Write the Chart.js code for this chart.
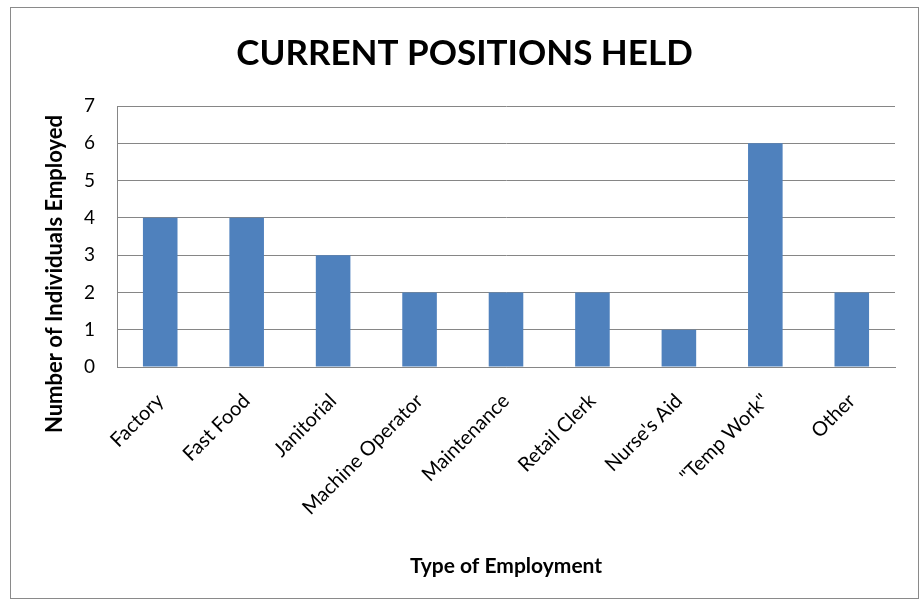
<!DOCTYPE html>
<html>
<head>
<meta charset="utf-8">
<script src="https://cdn.jsdelivr.net/npm/chart.js@4.4.1/dist/chart.umd.min.js"></script>
<style>
    body { margin: 0; background: #fff; }
    #frame {
        position: absolute;
        left: 10px; top: 7px;
        width: 907px; height: 590px;
        border: 1px solid #8a8a8a;
        background: #fff;
    }
</style>
</head>
<body>
<div id="frame"><canvas id="chart" width="907" height="590"></canvas></div>
<script>
// Values
const categories = ['Factory', 'Fast Food', 'Janitorial', 'Machine Operator', 'Maintenance',
    'Retail Clerk', "Nurse's Aid", '"Temp Work"', 'Other'];
const employed = [4, 4, 3, 2, 2, 2, 1, 6, 2];

const chartTitle = 'CURRENT POSITIONS HELD';
const xTitle = 'Type of Employment';
const yTitle = 'Number of Individuals Employed';
const yMax = 7;

const fontFam = 'Lato, "Liberation Sans", sans-serif';

// y title sits lower than the axis middle in the original, so draw it ourselves
const yTitlePlugin = {
    id: 'yTitlePlugin',
    afterDraw(chart) {
        const c = chart.ctx;
        c.save();
        c.translate(44, chart.chartArea.bottom - 93);
        c.rotate(-Math.PI / 2);
        c.font = 'bold 22px ' + fontFam;
        c.fillStyle = '#000';
        c.textAlign = 'center';
        c.textBaseline = 'middle';
        c.fillText(yTitle, 0, 0);
        c.restore();
    }
};

const ctx = document.getElementById('chart').getContext('2d');
const chart = new Chart(ctx, {
    type: 'bar',
    data: {
        labels: categories,
        datasets: [{
            label: 'Employed',
            data: employed,
            backgroundColor: '#4f81bd',
            borderWidth: 0,
            categoryPercentage: 1.0,
            barPercentage: 0.4
        }]
    },
    plugins: [yTitlePlugin],
    options: {
        responsive: false,
        animation: false,
        layout: { padding: 0 },
        plugins: {
            legend: { display: false },
            tooltip: { enabled: false },
            title: {
                display: true,
                text: chartTitle,
                color: '#000',
                font: { family: fontFam, size: 35, weight: 'bold' },
                padding: { top: 25, bottom: 31 }
            }
        },
        scales: {
            x: {
                grid: { display: false, drawTicks: false },
                border: { display: true, color: '#868686', width: 1 },
                ticks: {
                    color: '#000',
                    font: { family: fontFam, size: 20 },
                    maxRotation: 45,
                    minRotation: 45,
                    padding: 22,
                    autoSkip: false
                },
                title: {
                    display: true,
                    text: xTitle,
                    color: '#000',
                    font: { family: fontFam, size: 21, weight: 'bold' },
                    padding: { top: 0, bottom: 19 }
                },
                afterFit: (scale) => { scale.height = 231; }
            },
            y: {
                min: 0,
                max: yMax,
                grid: { color: '#868686', lineWidth: 1, drawTicks: false },
                border: { display: true, color: '#868686', width: 1 },
                ticks: {
                    stepSize: 1,
                    color: '#000',
                    font: { family: fontFam, size: 19 },
                    padding: 22
                },
                afterFit: (scale) => { scale.width = 106; }
            },
            // empty spacer on the right so the title stays centred on the whole frame
            spacer: {
                type: 'linear',
                position: 'right',
                display: true,
                grid: { display: false, drawTicks: false },
                border: { display: false },
                ticks: { display: false },
                afterFit: (scale) => { scale.width = 23; }
            }
        }
    }
});
</script>
</body>
</html>
